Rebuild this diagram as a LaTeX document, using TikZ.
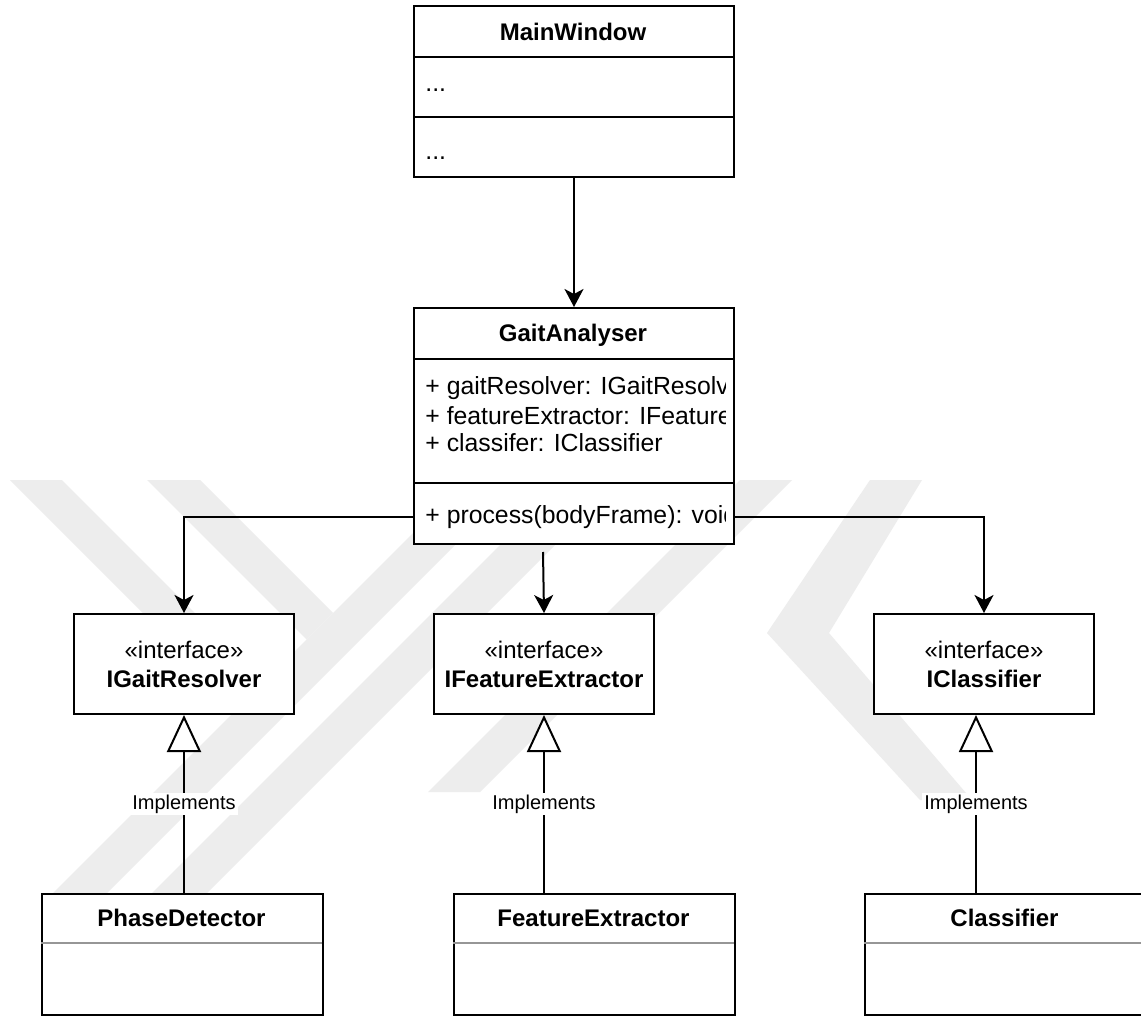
\documentclass[tikz,border=0pt]{standalone}
\usepackage{fontspec}
\setmainfont{Liberation Sans}
\usetikzlibrary{arrows.meta,calc}

\definecolor{wm}{RGB}{237,237,237}
\definecolor{sepgray}{RGB}{150,150,150}

\begin{document}
\begin{tikzpicture}[x=0.5pt,y=-0.5pt,
  every node/.style={font=\fontsize{12}{14.5}\selectfont, inner sep=0pt},
  box/.style={draw=black, line width=1pt, fill=white, anchor=north west},
  classbox/.style={box, minimum width=160pt},
  ifacebox/.style={box, minimum width=110pt, minimum height=50pt, align=center},
  implbox/.style={box, minimum width=140.5pt, minimum height=60.5pt},
  ttl/.style={font=\fontsize{12}{14.5}\selectfont\bfseries},
  member/.style={anchor=west, font=\fontsize{12.4}{14.5}\selectfont},
  divider/.style={line width=1pt},
  lightdivider/.style={line width=0.8pt, draw=sepgray},
  assoc/.style={line width=1pt, -{Stealth[length=9pt,width=9.5pt,inset=2.5pt]}},
  realize/.style={line width=1pt, -{Triangle[length=18.5pt,width=17pt,fill=white]}},
  tag/.style={font=\fontsize{10}{12}\selectfont, fill=white, inner sep=1pt},
  band/.style={fill=wm, draw=none}
]
\clip (0,0) rectangle (1141,1016);
\fill[white] (0,0) rectangle (1141,1016);

% light background emblem
\fill[band] (10,480) -- (62,480) -- (264,682) -- (238,708) -- cycle;
\fill[band] (147,480) -- (200,480) -- (333,613) -- (306.5,639.5) -- cycle;
\fill[band] (466,480) -- (520,480) -- (100,900) -- (46,900) -- cycle;
\fill[band] (565,480) -- (620,480) -- (200,900) -- (145,900) -- cycle;
\fill[band] (740,480) -- (792,480) -- (480,792) -- (428,792) -- cycle;
\fill[band] (870,480) -- (922,480) -- (829,633) -- (972,800) -- (920,800) -- (767,633) -- cycle;

% MainWindow
\node[classbox, minimum height=85.5pt] (mw) at (413,5) {};
\node[ttl] (mwT) at (573,32) {MainWindow};
\draw[divider] (413,57) -- (733,57);
\draw[divider] (413,117) -- (733,117);
\node[member] (mwA) at (425,90) {...};
\node[member] (mwO) at (425,158) {...};

% GaitAnalyser
\node[classbox, minimum height=118pt] (ga) at (413,307) {};
\node[ttl] (gaT) at (573,335) {GaitAnalyser};
\draw[divider] (413,359) -- (733,359);
\draw[divider] (413,483) -- (733,483);
\begin{scope}
  \clip (414,360) rectangle (725,542);
  \node[member] (gaA1) at (425,388) {+ gaitResolver: IGaitResolver};
  \node[member] (gaA2) at (425,416) {+ featureExtractor: IFeatureExtractor};
  \node[member] (gaA3) at (425,443) {+ classifer: IClassifier};
  \node[member] (gaO1) at (425,517) {+ process(bodyFrame): void};
\end{scope}
\coordinate (gaL) at (413,517);
\coordinate (gaR) at (733,517);
\coordinate (gaB) at (543,552);

% interfaces
\node[ifacebox] (igr) at (73,613) {«interface»\\\textbf{IGaitResolver}};
\node[ifacebox] (ife) at (433,613) {«interface»\\\textbf{IFeatureExtractor}};
\node[ifacebox] (icl) at (873,613) {«interface»\\\textbf{IClassifier}};

% implementations
\node[implbox] (pd) at (41,893) {};
\node[ttl] (pdT) at (181.5,918) {PhaseDetector};
\draw[lightdivider] (41,943) -- (322,943);
\node[implbox] (fe) at (453,893) {};
\node[ttl] (feT) at (593.5,918) {FeatureExtractor};
\draw[lightdivider] (453,943) -- (734,943);
\node[implbox] (cl) at (864,893) {};
\node[ttl] (clT) at (1004.5,918) {Classifier};
\draw[lightdivider] (864,943) -- (1145,943);

% associations
\draw[assoc] (mw.south) -- (ga.north);
\draw[assoc] (gaL) -| (igr.north);
\draw[assoc] (gaB) -- (ife.north);
\draw[assoc] (gaR) -| (icl.north);

% realizations
\coordinate (iclPort) at ($(icl.south)+(-8,0)$);
\draw[realize] (igr.south |- pd.north) -- node[tag] (l1) {Implements} (igr.south);
\draw[realize] (ife.south |- fe.north) -- node[tag] (l2) {Implements} (ife.south);
\draw[realize] (iclPort |- cl.north) -- node[tag] (l3) {Implements} (iclPort);
\end{tikzpicture}
\end{document}
